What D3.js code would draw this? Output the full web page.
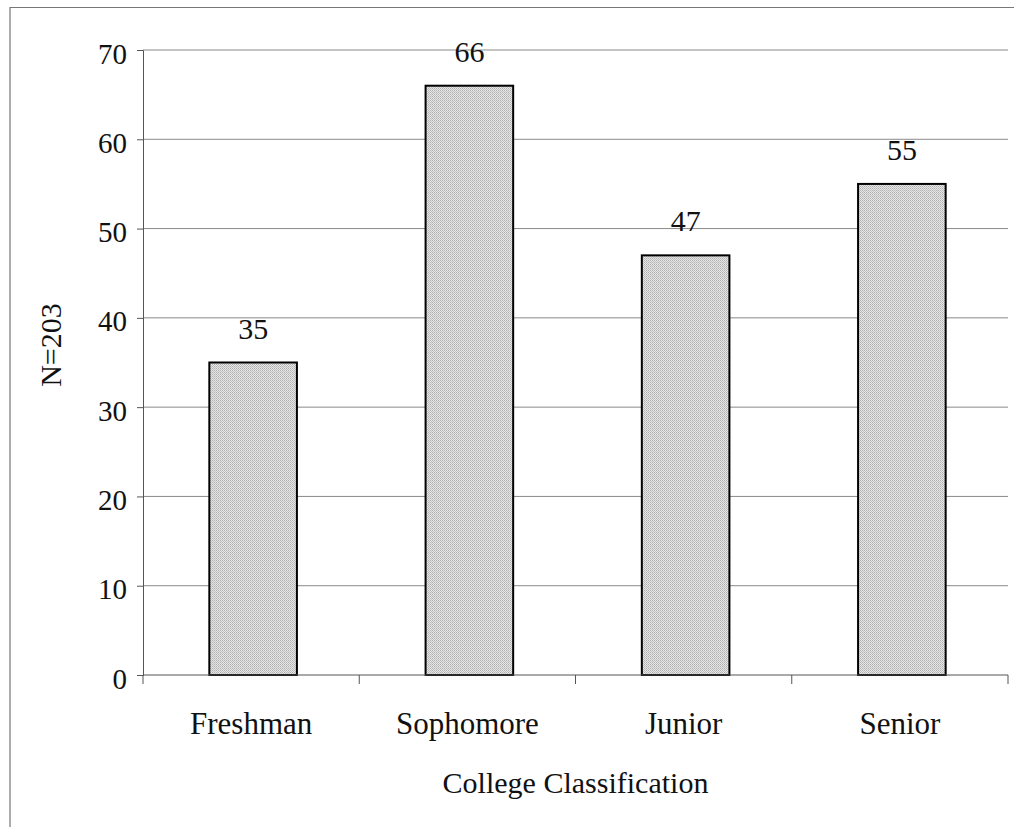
<!DOCTYPE html>
<html><head><meta charset="utf-8">
<script src="https://cdn.jsdelivr.net/npm/d3@7"></script>
<style>body{margin:0;background:#fff}svg{display:block}text{font-family:"Liberation Serif","Times New Roman",serif;fill:#111}</style>
</head><body>
<svg id="c" width="1014" height="827"></svg>
<script>
const categories = ["Freshman","Sophomore","Junior","Senior"];
const values = [35,66,47,55];
const yTicks = [0,10,20,30,40,50,60,70];
const yTitle = "N=203";
const xTitle = "College Classification";

const svg = d3.select("#c");
const L=143, R=1008, T=50, B=675;
const FF="'Liberation Serif','Times New Roman',serif";

// outer frame
svg.append("path").attr("d","M10,827 L10,7.5 L1014,7.5").attr("fill","none").attr("stroke","#777").attr("stroke-width",1.2);

const defs = svg.append("defs");
const pat = defs.append("pattern").attr("id","dots").attr("width",2).attr("height",2).attr("patternUnits","userSpaceOnUse");
pat.append("rect").attr("width",2).attr("height",2).attr("fill","#e6e6e6");
pat.append("rect").attr("width",1).attr("height",1).attr("fill","#b0b0b0");
pat.append("rect").attr("x",1).attr("y",1).attr("width",1).attr("height",1).attr("fill","#c2c2c2");

const x = d3.scaleBand().domain(categories).range([L+2,R+2]).paddingInner(0.595).paddingOuter(0.2975);
const x0 = d3.scaleBand().domain(categories).range([L,R]);
const y = d3.scaleLinear().domain([0,70]).range([B,T]);

// gridlines
svg.append("g").selectAll("line").data(yTicks.filter(d=>d>0)).join("line")
  .attr("x1",L).attr("x2",R).attr("y1",d=>y(d)).attr("y2",d=>y(d))
  .attr("stroke","#8a8a8a").attr("stroke-width",1);

// y axis
const ya = svg.append("g").attr("transform",`translate(${L},0)`)
  .call(d3.axisLeft(y).tickValues(yTicks).tickSize(6).tickPadding(10));
ya.select(".domain").attr("stroke","#555").attr("stroke-width",1);
ya.selectAll(".tick line").attr("stroke","#555");
ya.selectAll("text").style("font-size","29px").style("font-family",FF).attr("fill","#111").attr("dy","0.45em");

// bars
svg.append("g").selectAll("rect").data(values).join("rect")
  .attr("x",(d,i)=>x(categories[i])).attr("width",x.bandwidth())
  .attr("y",d=>y(d)).attr("height",d=>B-y(d))
  .attr("fill","url(#dots)").attr("stroke","#000").attr("stroke-width",2);

// x axis
const xa = svg.append("g").attr("transform",`translate(0,${B})`)
  .call(d3.axisBottom(x0).tickSize(0).tickPadding(0));
xa.select(".domain").remove();
xa.selectAll("text").attr("dy",null).attr("y",59).style("font-size","31px").style("font-family",FF).attr("fill","#111");
svg.append("line").attr("x1",L).attr("x2",R).attr("y1",B).attr("y2",B).attr("stroke","#555");
svg.append("g").selectAll("line").data(categories.concat(["_end"])).join("line")
  .attr("x1",(d,i)=>L+i*x0.step()).attr("x2",(d,i)=>L+i*x0.step())
  .attr("y1",B).attr("y2",B+9).attr("stroke","#555");

// value labels
svg.append("g").selectAll("text").data(values).join("text")
  .attr("x",(d,i)=>x(categories[i])+x.bandwidth()/2).attr("y",d=>y(d)-24)
  .attr("text-anchor","middle").style("font-size","30px").text(d=>d);

// titles
svg.append("text").attr("x",(L+R)/2).attr("y",793).attr("text-anchor","middle").style("font-size","30px").text(xTitle);
svg.append("text").attr("transform","translate(61,345) rotate(-90)").attr("text-anchor","middle").style("font-size","30px").text(yTitle);
</script>
</body></html>
